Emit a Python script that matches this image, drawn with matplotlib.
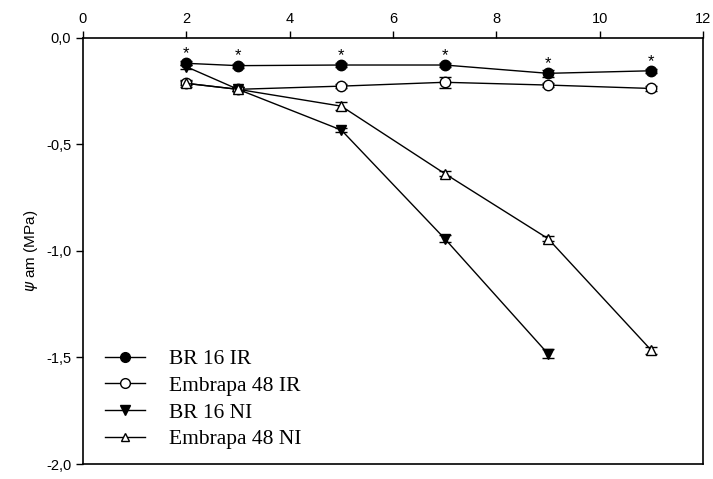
import matplotlib
matplotlib.use("Agg")
import matplotlib.pyplot as plt
from matplotlib.lines import Line2D
from matplotlib.ticker import FuncFormatter

# days after treatment
x = [2, 3, 5, 7, 9, 11]

br16_ir = [-0.121, -0.132, -0.129, -0.129, -0.168, -0.156]
emb48_ir = [-0.215, -0.243, -0.228, -0.210, -0.223, -0.239]
br16_ni = [-0.137, -0.243, -0.434, -0.943, -1.483]
emb48_ni = [-0.215, -0.243, -0.322, -0.638, -0.943, -1.467]

br16_ir_err = [0.01, 0.01, 0.01, 0.01, 0.015, 0.01]
emb48_ir_err = [0.01, 0.01, 0.01, 0.025, 0.01, 0.01]
br16_ni_err = [0.01, 0.01, 0.01, 0.015, 0.02]
emb48_ni_err = [0.015, 0.01, 0.02, 0.01, 0.01, 0.015]

labels = ["BR 16 IR", "Embrapa 48 IR", "BR 16 NI", "Embrapa 48 NI"]

fig = plt.figure(figsize=(7.13, 4.79), dpi=100)
ax = fig.add_axes([0.1164, 0.0313, 0.986 - 0.1164, 0.9217 - 0.0313])

common = dict(color='black', linewidth=1.0, ecolor='black', elinewidth=1.0,
              capsize=4, capthick=1.0)

ax.errorbar(x, br16_ir, yerr=br16_ir_err, marker='o', markersize=7.5,
            markerfacecolor='black', markeredgecolor='black', **common)
ax.errorbar(x, emb48_ir, yerr=emb48_ir_err, marker='o', markersize=7.5,
            markerfacecolor='white', markeredgecolor='black', **common)
ax.errorbar(x[:5], br16_ni, yerr=br16_ni_err, marker='v', markersize=7.5,
            markerfacecolor='black', markeredgecolor='black', **common)
ax.errorbar(x, emb48_ni, yerr=emb48_ni_err, marker='^', markersize=7,
            markerfacecolor='white', markeredgecolor='black', **common)

# significance marks above BR 16 IR
for xi, yi in zip(x, br16_ir):
    ax.text(xi, yi + 0.045, "*", ha='center', va='center', fontsize=12,
            family='Liberation Sans')

ax.set_xlim(0, 12)
ax.set_ylim(-2.0, 0.0)
ax.set_xticks([0, 2, 4, 6, 8, 10, 12])
ax.set_yticks([0.0, -0.5, -1.0, -1.5, -2.0])
ax.xaxis.tick_top()
ax.tick_params(axis='both', direction='out', length=5, width=1.0,
               labelsize=10.5, labelcolor='black')
ax.yaxis.set_major_formatter(FuncFormatter(lambda v, p: f"{v:.1f}".replace('.', ',')))
for lab in ax.get_xticklabels() + ax.get_yticklabels():
    lab.set_family('Liberation Sans')
for sp in ax.spines.values():
    sp.set_linewidth(1.2)

ax.set_ylabel(r"$\psi$ am (MPa)", fontsize=11, family='Liberation Sans', labelpad=4)

handles = [
    Line2D([], [], color='black', lw=1.0, marker='o', markersize=7,
           markerfacecolor='black', markeredgecolor='black'),
    Line2D([], [], color='black', lw=1.0, marker='o', markersize=7,
           markerfacecolor='white', markeredgecolor='black'),
    Line2D([], [], color='black', lw=1.0, marker='v', markersize=7,
           markerfacecolor='black', markeredgecolor='black'),
    Line2D([], [], color='black', lw=1.0, marker='^', markersize=6,
           markerfacecolor='white', markeredgecolor='black'),
]
ax.legend(handles, labels, loc='lower left', bbox_to_anchor=(0.035, 0.035),
          frameon=False, prop={'family': 'Liberation Serif', 'size': 15.5},
          handlelength=1.85, handletextpad=1.15, labelspacing=0.3,
          borderaxespad=0.0, borderpad=0.0)

fig.savefig("out.png", dpi=100)
